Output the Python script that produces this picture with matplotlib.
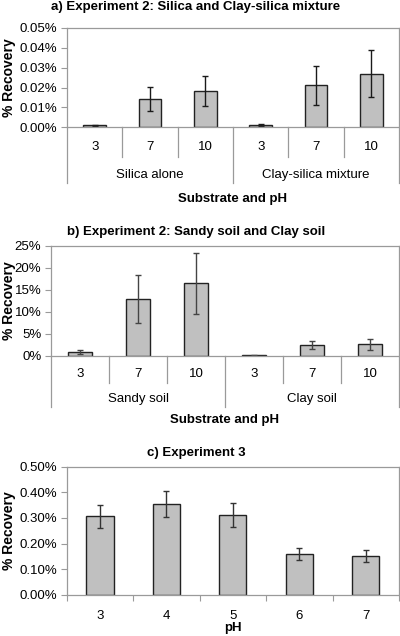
import matplotlib
matplotlib.use("Agg")
import matplotlib.pyplot as plt
from matplotlib.transforms import blended_transform_factory
from matplotlib.ticker import FuncFormatter, MultipleLocator

plt.rcParams['font.family'] = ['Liberation Sans', 'DejaVu Sans']

# a) Experiment 2: silica / clay-silica (% recovery)
a_ph = ["3", "7", "10", "3", "7", "10"]
a_groups = ["Silica alone", "Clay-silica mixture"]
a_vals = [0.0010, 0.0141, 0.0181, 0.0013, 0.0211, 0.0270]
a_err = [0.0003, 0.0060, 0.0075, 0.0005, 0.0100, 0.0117]

# b) Experiment 2: sandy soil / clay soil
b_ph = ["3", "7", "10", "3", "7", "10"]
b_groups = ["Sandy soil", "Clay soil"]
b_vals = [0.9, 13.0, 16.5, 0.2, 2.4, 2.7]
b_err = [0.5, 5.5, 6.9, 0.1, 0.9, 1.25]

# c) Experiment 3
c_ph = ["3", "4", "5", "6", "7"]
c_vals = [0.306, 0.354, 0.311, 0.158, 0.150]
c_err = [0.045, 0.052, 0.047, 0.023, 0.024]

W, H = 400, 636
FRAME = '#9a9a9a'
BAR = '#c0c0c0'

fig = plt.figure(figsize=(W / 100, H / 100), dpi=100)


def make_axes(left, right, top, bottom):
    # pixel box (top-left origin) -> figure axes
    return fig.add_axes([left / W, 1 - bottom / H, (right - left) / W, (bottom - top) / H])


def style_axes(ax, ymax, step, fmt, top, bottom):
    ax.set_ylim(0, ymax)
    ax.yaxis.set_major_locator(MultipleLocator(step))
    ax.yaxis.set_major_formatter(FuncFormatter(lambda v, p: fmt.format(v)))
    for s in ax.spines.values():
        s.set_color(FRAME)
        s.set_linewidth(0.9)
    ax.tick_params(axis='y', direction='out', length=4, width=0.8, color=FRAME,
                   labelsize=9.5, pad=3)
    # y label sits at a fixed spot near the left edge of the figure
    fig.text(9 / W, 1 - (top + bottom) / 2 / H, '% Recovery', rotation=90,
             ha='center', va='center', fontsize=10, fontweight='bold')


def draw_bars(ax, vals, err, ecolor):
    x = list(range(len(vals)))
    ax.bar(x, vals, width=0.41, color=BAR, edgecolor='#222222', linewidth=1.0,
           yerr=err, ecolor=ecolor, capsize=2.5,
           error_kw=dict(elinewidth=1.0, capthick=1.0))
    ax.set_xlim(-0.5, len(vals) - 0.5)


def grouped_xaxis(ax, ph, groups, h_px, inner, outer, lab_y, grp_y, xl_y):
    ax.set_xticks([])
    tr = blended_transform_factory(ax.transData, ax.transAxes)
    n = len(ph)
    for i in range(n + 1):
        xs = i - 0.5
        depth = outer if i % 3 == 0 else inner
        ax.plot([xs, xs], [0, -depth / h_px], transform=tr, color=FRAME,
                lw=0.9, clip_on=False)
    for i, lab in enumerate(ph):
        ax.text(i, -lab_y / h_px, lab, transform=tr, ha='center', va='center',
                fontsize=9.5)
    for g, lab in enumerate(groups):
        ax.text(g * 3 + 1, -grp_y / h_px, lab, transform=tr, ha='center',
                va='center', fontsize=9.5)
    ax.text(0.5, -xl_y / h_px, 'Substrate and pH', transform=ax.transAxes,
            ha='center', va='center', fontsize=9.5, fontweight='bold')


# panel a
ax1 = make_axes(67, 399, 28, 127.3)
draw_bars(ax1, a_vals, a_err, '#1a1a1a')
style_axes(ax1, 0.05, 0.01, '{:.2f}%', 28, 127.3)
grouped_xaxis(ax1, a_ph, a_groups, 99.3, 29.4, 55.4, 19.4, 47.7, 72)
fig.text(196 / W, 1 - 7 / H, 'a) Experiment 2: Silica and Clay-silica mixture',
         ha='center', va='center', fontsize=9.5, fontweight='bold')

# panel b
ax2 = make_axes(51, 399, 246, 356)
draw_bars(ax2, b_vals, b_err, '#444444')
style_axes(ax2, 25, 5, '{:.0f}%', 246, 356)
grouped_xaxis(ax2, b_ph, b_groups, 110, 26.7, 51, 18, 43, 64)
fig.text(196 / W, 1 - 232 / H, 'b) Experiment 2: Sandy soil and Clay soil',
         ha='center', va='center', fontsize=9.5, fontweight='bold')

# panel c
ax3 = make_axes(66.7, 399, 466.7, 594.7)
draw_bars(ax3, c_vals, c_err, '#333333')
style_axes(ax3, 0.5, 0.1, '{:.2f}%', 466.7, 594.7)
ax3.set_xticks(range(len(c_ph)))
ax3.set_xticklabels(c_ph)
ax3.set_xticks([i - 0.5 for i in range(len(c_ph) + 1)], minor=True)
ax3.tick_params(axis='x', which='major', length=0, labelsize=9.5, pad=11)
ax3.tick_params(axis='x', which='minor', direction='out', length=4, width=0.8, color=FRAME)
fig.text(233 / W, 1 - 628 / H, 'pH', ha='center', va='center',
         fontsize=9.5, fontweight='bold')
fig.text(196 / W, 1 - 453 / H, 'c) Experiment 3',
         ha='center', va='center', fontsize=9.5, fontweight='bold')

fig.savefig('out.png', dpi=100)
